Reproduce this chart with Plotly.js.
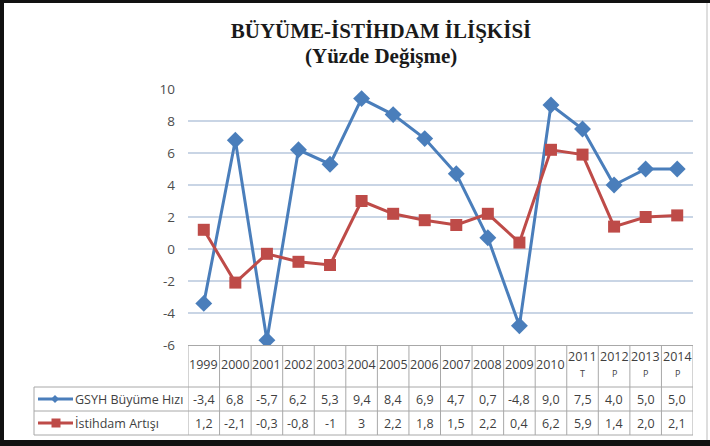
<!DOCTYPE html>
<html>
<head>
<meta charset="utf-8">
<script src="https://cdn.plot.ly/plotly-3.0.1.min.js"></script>
<style>
html,body{margin:0;padding:0;background:#fff;}
#chart{width:710px;height:446px;}
</style>
</head>
<body>
<div id="chart"></div>
<script>
// ---- data ----
const years = ['1999','2000','2001','2002','2003','2004','2005','2006','2007','2008','2009','2010','2011','2012','2013','2014'];
const yearNotes = ['','','','','','','','','','','','','T','P','P','P'];
const gsyh = [-3.4, 6.8, -5.7, 6.2, 5.3, 9.4, 8.4, 6.9, 4.7, 0.7, -4.8, 9.0, 7.5, 4.0, 5.0, 5.0];
const istihdam = [1.2, -2.1, -0.3, -0.8, -1, 3, 2.2, 1.8, 1.5, 2.2, 0.4, 6.2, 5.9, 1.4, 2.0, 2.1];
const gsyhLabels = ['-3,4','6,8','-5,7','6,2','5,3','9,4','8,4','6,9','4,7','0,7','-4,8','9,0','7,5','4,0','5,0','5,0'];
const istihdamLabels = ['1,2','-2,1','-0,3','-0,8','-1','3','2,2','1,8','1,5','2,2','0,4','6,2','5,9','1,4','2,0','2,1'];
const seriesNames = ['GSYH Büyüme Hızı', 'İstihdam Artışı'];
const yTicks = [-6, -4, -2, 0, 2, 4, 6, 8, 10];

// ---- geometry helpers ----
const W = 710, H = 446;
const M = {l: 188, r: 17, t: 89, b: 101};
const PW = W - M.l - M.r, PH = H - M.t - M.b;
const px = p => (p - M.l) / PW;          // pixel x -> paper x
const py = p => (H - M.b - p) / PH;      // pixel y -> paper y

const blue = '#4A7EBB', red = '#BE4B48';
const gridCol = '#C9D5E5', tableCol = '#A8A8A8', textCol = '#3F3F3F';
const tfont = {family: 'Open Sans, Liberation Sans, sans-serif', size: 12.5, color: textCol};

const traces = [
  {x: years, y: gsyh, name: seriesNames[0], type: 'scatter', mode: 'lines+markers',
   line: {color: blue, width: 3}, marker: {symbol: 'diamond', size: 13, color: blue}},
  {x: years, y: istihdam, name: seriesNames[1], type: 'scatter', mode: 'lines+markers',
   line: {color: red, width: 3}, marker: {symbol: 'square', size: 12, color: red}}
];

// table rows (pixel rows)
const rowTop = py(345), rowHead = py(387), rowMid = py(411), rowBot = py(435);
const legLeft = px(34);

const shapes = [];
const annotations = [];
// horizontal lines
shapes.push({type:'line', xref:'paper', yref:'paper', x0:legLeft, x1:1, y0:rowHead, y1:rowHead, line:{color:tableCol, width:1}});
shapes.push({type:'line', xref:'paper', yref:'paper', x0:legLeft, x1:1, y0:rowMid, y1:rowMid, line:{color:tableCol, width:1}});
shapes.push({type:'line', xref:'paper', yref:'paper', x0:legLeft, x1:1, y0:rowBot, y1:rowBot, line:{color:tableCol, width:1}});
shapes.push({type:'line', xref:'paper', yref:'paper', x0:legLeft, x1:legLeft, y0:rowHead, y1:rowBot, line:{color:tableCol, width:1}});
// vertical column lines
for (let i = 0; i <= years.length; i++) {
  shapes.push({type:'line', xref:'x', yref:'paper', x0:i-0.5, x1:i-0.5, y0:rowTop, y1:rowBot, line:{color:tableCol, width:1}});
}
// table text (category index positions on the x axis)
years.forEach((yr, i) => {
  if (yearNotes[i]) {
    annotations.push({xref:'x', yref:'paper', x:i, y:py(356), text:yr, showarrow:false, font:tfont, yanchor:'middle'});
    annotations.push({xref:'x', yref:'paper', x:i, y:py(373), text:yearNotes[i], showarrow:false, font:Object.assign({}, tfont, {size:9}), yanchor:'middle'});
  } else {
    annotations.push({xref:'x', yref:'paper', x:i, y:py(364), text:yr, showarrow:false, font:tfont, yanchor:'middle'});
  }
  annotations.push({xref:'x', yref:'paper', x:i, y:(rowHead+rowMid)/2, text:gsyhLabels[i], showarrow:false, font:tfont, yanchor:'middle'});
  annotations.push({xref:'x', yref:'paper', x:i, y:(rowMid+rowBot)/2, text:istihdamLabels[i], showarrow:false, font:tfont, yanchor:'middle'});
});
// legend keys inside table
const keyRows = [(rowHead+rowMid)/2, (rowMid+rowBot)/2];
const keyCols = [blue, red];
keyRows.forEach((yy, k) => {
  shapes.push({type:'line', xref:'paper', yref:'paper', x0:px(38), x1:px(73), y0:yy, y1:yy, line:{color:keyCols[k], width:3}});
  annotations.push({xref:'paper', yref:'paper', x:px(73), y:yy, xanchor:'left', yanchor:'middle', text:seriesNames[k], showarrow:false, font:tfont});
});
// diamond key
{
  const cx = 55, cy = 399, r = 4;
  shapes.push({type:'path', xref:'paper', yref:'paper',
    path:`M ${px(cx-r)},${py(cy)} L ${px(cx)},${py(cy-r)} L ${px(cx+r)},${py(cy)} L ${px(cx)},${py(cy+r)} Z`,
    fillcolor:blue, line:{color:blue, width:0}});
}
{
  const cx = 56, cy = 423, r = 4.5;
  shapes.push({type:'rect', xref:'paper', yref:'paper', x0:px(cx-r), x1:px(cx+r), y0:py(cy+r), y1:py(cy-r),
    fillcolor:red, line:{color:red, width:0}});
}
// outer frame
shapes.push({type:'rect', xref:'paper', yref:'paper', x0:px(0), x1:px(710), y0:py(0), y1:py(3), fillcolor:'#111', line:{width:0}});
shapes.push({type:'rect', xref:'paper', yref:'paper', x0:px(0), x1:px(4), y0:py(0), y1:py(446), fillcolor:'#111', line:{width:0}});
shapes.push({type:'rect', xref:'paper', yref:'paper', x0:px(0), x1:px(710), y0:py(440), y1:py(446), fillcolor:'#111', line:{width:0}});
shapes.push({type:'line', xref:'paper', yref:'paper', x0:px(707), x1:px(707), y0:py(3), y1:py(440), line:{color:'#bdbdbd', width:1}});

// subtitle
annotations.push({xref:'paper', yref:'paper', x:px(381), y:py(56), text:'<b>(Yüzde Değişme)</b>', showarrow:false,
  xanchor:'center', yanchor:'middle', font:{family:'Liberation Serif, Times New Roman, serif', size:21, color:'#1a1a1a'}});

const layout = {
  width: W, height: H,
  margin: M,
  paper_bgcolor: '#fff', plot_bgcolor: '#fff',
  showlegend: false,
  title: {text:'<b>BÜYÜME-İSTİHDAM İLİŞKİSİ</b>', x: 381/W, xanchor:'center', y: 1 - 31/H, yanchor:'middle', yref:'container',
    font:{family:'Liberation Serif, Times New Roman, serif', size:21, color:'#1a1a1a'}},
  xaxis: {type:'category', range:[-0.5, years.length-0.5], showticklabels:false, showgrid:false, zeroline:false,
    showline:true, linecolor:tableCol, linewidth:1, ticks:'', fixedrange:true},
  yaxis: {range:[-6, 10], tickvals:yTicks, ticktext:yTicks.map(String), showgrid:true, gridcolor:gridCol, gridwidth:1.3,
    zeroline:false, showline:false, ticks:'', ticklabelstandoff:12,
    tickfont:{family:'Open Sans, Liberation Sans, sans-serif', size:13.5, color:'#4d4d4d'}, fixedrange:true},
  shapes: shapes,
  annotations: annotations
};

Plotly.newPlot('chart', traces, layout, {displayModeBar:false, staticPlot:true});
</script>
</body>
</html>
